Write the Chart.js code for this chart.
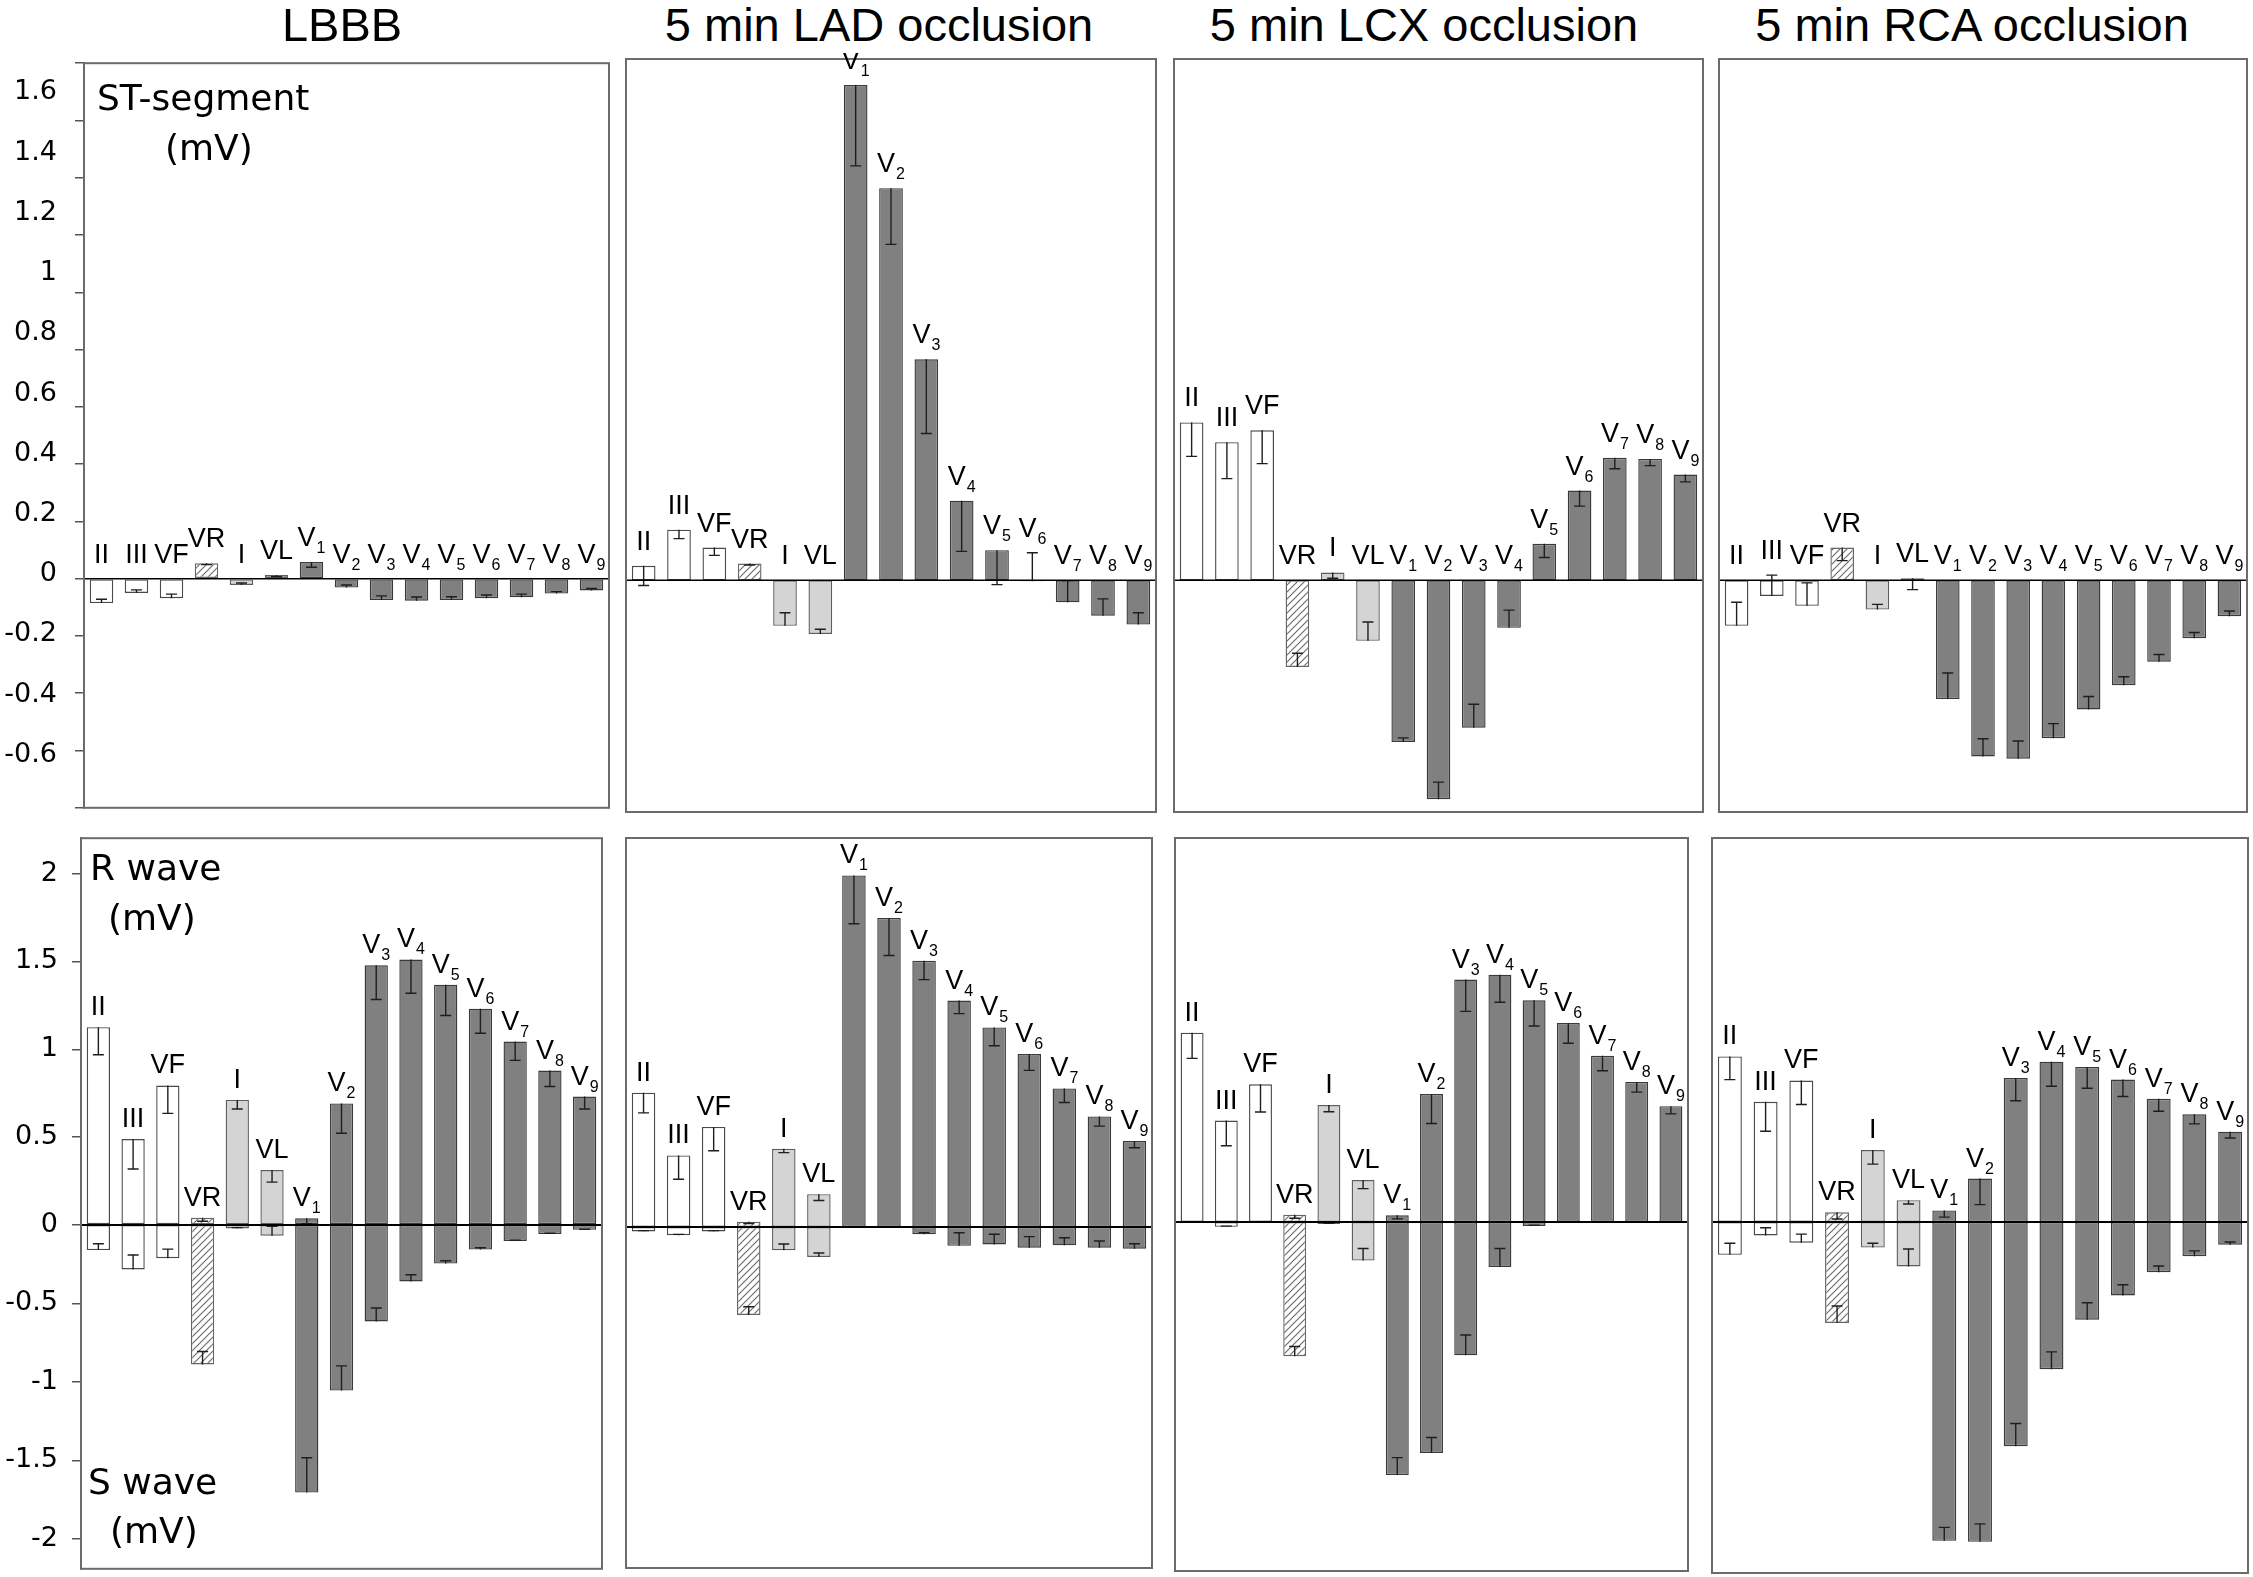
<!DOCTYPE html>
<html>
<head>
<meta charset="utf-8">
<title>ST-segment, R wave and S wave per lead</title>
<script src="https://cdn.jsdelivr.net/npm/chart.js@4.4.1/dist/chart.umd.min.js"></script>
<style>
  html, body { margin:0; padding:0; background:#fff; }
  #fig { position:relative; width:2253px; height:1577px; overflow:hidden; background:#fff; }
  #fig canvas { position:absolute; }
  .txt { position:absolute; white-space:nowrap; line-height:1; color:#000; }
  .title { font-family:"Liberation Sans", Arial, sans-serif; font-size:47px; transform:translateX(-50%); }
  .note { font-family:"DejaVu Sans", sans-serif; font-size:36px; }
</style>
</head>
<body>
<div id="fig"></div>
<script>
// ---------------- data ----------------
const leads = ['II','III','VF','VR','I','VL','V1','V2','V3','V4','V5','V6','V7','V8','V9'];
const panelTitles = ['LBBB','5 min LAD occlusion','5 min LCX occlusion','5 min RCA occlusion'];

const stTickValues = [-0.8,-0.6,-0.4,-0.2,0,0.2,0.4,0.6,0.8,1,1.2,1.4,1.6,1.8];
const stTickLabels = [-0.6,-0.4,-0.2,0,0.2,0.4,0.6,0.8,1,1.2,1.4,1.6];
const rTickValues = [0,0.5,1,1.5,2];
const sTickValues = [-0.5,-1,-1.5,-2];

// ST-segment (mV), mean and error
const stLBBB    = [-0.085,-0.050,-0.068,0.054,-0.022,0.013,0.058,-0.031,-0.074,-0.077,-0.074,-0.068,-0.065,-0.052,-0.041];
const stLBBBErr = [0.013,0.011,0.014,0.005,0.007,0.006,0.018,0.009,0.014,0.013,0.011,0.011,0.011,0.007,0.007];
const stLAD     = [0.050,0.175,0.113,0.058,-0.157,-0.185,1.710,1.354,0.763,0.275,0.104,-0.003,-0.076,-0.122,-0.153];
const stLADErr  = [0.068,0.031,0.027,0.005,0.045,0.016,0.279,0.194,0.256,0.175,0.119,0.098,0.075,0.058,0.041];
const stLCX     = [0.545,0.477,0.518,-0.299,0.027,-0.209,-0.558,-0.756,-0.509,-0.164,0.126,0.310,0.423,0.419,0.365];
const stLCXErr  = [0.117,0.126,0.115,0.047,0.020,0.065,0.014,0.059,0.081,0.061,0.047,0.054,0.038,0.023,0.025];
const stRCA     = [-0.157,-0.054,-0.088,0.113,-0.101,0.007,-0.410,-0.608,-0.616,-0.545,-0.446,-0.362,-0.281,-0.200,-0.124];
const stRCAErr  = [0.081,0.072,0.079,0.045,0.018,0.039,0.090,0.061,0.061,0.050,0.045,0.029,0.025,0.020,0.018];

// R wave (mV) and S wave (mV), mean and error
const rLBBB    = [1.126,0.489,0.794,0.041,0.712,0.313,0.038,0.692,1.478,1.511,1.368,1.231,1.044,0.879,0.731];
const rLBBBErr = [0.157,0.170,0.159,0.020,0.052,0.069,0.030,0.170,0.195,0.192,0.176,0.140,0.107,0.091,0.071];
const sLBBB    = [-0.160,-0.283,-0.212,-0.889,-0.022,-0.068,-1.705,-1.055,-0.615,-0.360,-0.246,-0.157,-0.102,-0.058,-0.031];
const sLBBBErr = [0.040,0.092,0.058,0.083,0.005,0.060,0.222,0.157,0.086,0.043,0.018,0.012,0.005,0.005,0.004];

const rLAD    = [0.764,0.407,0.569,0.030,0.445,0.187,2.000,1.758,1.514,1.288,1.135,0.984,0.788,0.629,0.489];
const rLADErr = [0.115,0.135,0.135,0.010,0.022,0.036,0.275,0.214,0.107,0.074,0.104,0.093,0.080,0.055,0.038];
const sLAD    = [-0.028,-0.052,-0.028,-0.560,-0.148,-0.191,0,0,-0.046,-0.120,-0.111,-0.132,-0.117,-0.132,-0.138];
const sLADErr = [0.005,0.005,0.005,0.052,0.040,0.025,0,0,0.010,0.083,0.065,0.071,0.049,0.043,0.031];

const rLCX    = [1.077,0.577,0.783,0.041,0.665,0.239,0.038,0.728,1.379,1.407,1.261,1.132,0.945,0.797,0.659];
const rLCXErr = [0.146,0.143,0.157,0.020,0.038,0.049,0.020,0.168,0.181,0.157,0.146,0.115,0.085,0.058,0.044];
const sLCX    = [0,-0.031,0,-0.855,-0.012,-0.246,-1.612,-1.471,-0.849,-0.286,-0.025,0,0,0,0];
const sLCXErr = [0,0.005,0,0.062,0.003,0.077,0.111,0.098,0.129,0.117,0.005,0,0,0,0];

const rRCA    = [0.942,0.684,0.805,0.055,0.409,0.124,0.066,0.247,0.819,0.912,0.882,0.810,0.701,0.613,0.514];
const rRCAErr = [0.132,0.168,0.137,0.038,0.080,0.022,0.038,0.148,0.129,0.140,0.121,0.096,0.071,0.055,0.036];
const sRCA    = [-0.209,-0.086,-0.132,-0.643,-0.163,-0.283,-2.031,-2.037,-1.428,-0.938,-0.622,-0.468,-0.320,-0.218,-0.145];
const sRCAErr = [0.074,0.049,0.055,0.108,0.028,0.111,0.086,0.114,0.145,0.111,0.108,0.068,0.040,0.034,0.018];

const stSeries = [[stLBBB,stLBBBErr],[stLAD,stLADErr],[stLCX,stLCXErr],[stRCA,stRCAErr]];
const rsSeries = [[rLBBB,rLBBBErr,sLBBB,sLBBBErr],[rLAD,rLADErr,sLAD,sLADErr],[rLCX,rLCXErr,sLCX,sLCXErr],[rRCA,rRCAErr,sRCA,sRCAErr]];

// ---------------- layout & style ----------------
const topBoxes = [{l:84,r:609},{l:626,r:1156},{l:1174,r:1703},{l:1719,r:2247}];
const topRow = {t:59, b:812};
const botBoxes = [
  {l:81,  r:602,  t:838, b:1569, zero:1225},
  {l:626, r:1152, t:838, b:1568, zero:1227},
  {l:1175,r:1688, t:838, b:1571, zero:1222},
  {l:1712,r:2248, t:838, b:1573, zero:1222}
];
const pxPerR = 175.8, pxPerS = 157.0;
const titleCenters = [342, 879, 1424, 1972];

Chart.defaults.font.family = '"DejaVu Sans", sans-serif';

const fig = document.getElementById('fig');

function makeHatch() {
  const s = 7;
  const c = document.createElement('canvas');
  c.width = s; c.height = s;
  const g = c.getContext('2d');
  g.fillStyle = '#ffffff'; g.fillRect(0, 0, s, s);
  g.strokeStyle = '#6e6e6e'; g.lineWidth = 1.2;
  g.beginPath();
  g.moveTo(-1, s + 1); g.lineTo(s + 1, -1);
  g.moveTo(-1, 1); g.lineTo(1, -1);
  g.moveTo(s - 1, s + 1); g.lineTo(s + 1, s - 1);
  g.stroke();
  return g.createPattern(c, 'repeat');
}
const hatch = makeHatch();
const leadGroup = ['white','white','white','hatch','light','light','dark','dark','dark','dark','dark','dark','dark','dark','dark'];
const fillFor = {white:'#ffffff', light:'#d4d4d4', dark:'#808080'};
const borderFor = {white:'#4a4a4a', hatch:'#666666', light:'#5e5e5e', dark:'#3a3a3a'};
const fills = leadGroup.map(g => g === 'hatch' ? hatch : fillFor[g]);
const borders = leadGroup.map(g => borderFor[g]);

const LABEL_FONT = '27px "Liberation Sans", Arial, sans-serif';
const SUB_FONT = '16px "Liberation Sans", Arial, sans-serif';

const overlay = {
  id: 'overlay',
  afterDatasetsDraw(chart, args, o) {
    const ctx = chart.ctx, a = chart.chartArea, xs = chart.scales.x;
    ctx.save();
    // error bars (drawn from the bar end towards zero)
    chart.data.datasets.forEach(ds => {
      const ys = chart.scales[ds.yAxisID];
      ds.data.forEach((v, i) => {
        const e = ds.errors[i];
        if (!e) return;
        const end = v < 0 ? v + e : v - e;
        const x = xs.getPixelForValue(i);
        const y0 = ys.getPixelForValue(v), y1 = ys.getPixelForValue(end);
        ctx.strokeStyle = '#1e1e1e'; ctx.lineWidth = 1.4;
        ctx.beginPath();
        ctx.moveTo(x, y0); ctx.lineTo(x, y1);
        ctx.moveTo(x - 5.5, y1); ctx.lineTo(x + 5.5, y1);
        ctx.stroke();
      });
    });
    // zero line
    const zy = chart.scales[o.zeroAxis].getPixelForValue(0);
    ctx.strokeStyle = '#000'; ctx.lineWidth = o.zeroWidth;
    ctx.beginPath(); ctx.moveTo(a.left, zy); ctx.lineTo(a.right, zy); ctx.stroke();
    // panel frame
    ctx.strokeStyle = '#6b6b6b'; ctx.lineWidth = 2;
    ctx.strokeRect(a.left, a.top, a.right - a.left, a.bottom - a.top);
    // lead labels
    const ds0 = chart.data.datasets[0];
    const ys0 = chart.scales[ds0.yAxisID];
    ctx.fillStyle = '#000';
    ctx.textBaseline = 'alphabetic';
    ctx.textAlign = 'left';
    chart.data.labels.forEach((lab, i) => {
      const v = ds0.data[i], e = ds0.errors[i] || 0;
      const end = v < 0 ? v + e : v - e;
      const top = Math.max(0, v, end);
      const yb = ys0.getPixelForValue(top) - o.gap;
      const m = /^(\D+)(\d*)$/.exec(lab);
      const main = m[1], sub = m[2];
      ctx.font = LABEL_FONT;
      const wMain = ctx.measureText(main).width;
      ctx.font = SUB_FONT;
      const wSub = sub ? ctx.measureText(sub).width + 1 : 0;
      const x0 = xs.getPixelForValue(i) - (wMain + wSub) / 2;
      ctx.font = LABEL_FONT;
      ctx.fillText(main, x0, yb);
      if (sub) {
        ctx.font = SUB_FONT;
        ctx.fillText(sub, x0 + wMain + 1, yb + 7);
      }
    });
    ctx.restore();
  }
};

function addCanvas(left, top, w, h) {
  const c = document.createElement('canvas');
  c.width = w; c.height = h;
  c.style.left = left + 'px'; c.style.top = top + 'px';
  c.style.width = w + 'px'; c.style.height = h + 'px';
  fig.appendChild(c);
  return c;
}

const tickFont = {family:'"DejaVu Sans", sans-serif', size:27};
const xHidden = {type:'category', display:false, offset:true, grid:{display:false}};
const barStyle = {backgroundColor: fills, borderColor: borders, borderWidth: 1.4, borderSkipped: false,
                  barPercentage: 0.67, categoryPercentage: 1.0, grouped: false};

function baseOptions(padding, overlayOpts, scales) {
  return {
    responsive: false, animation: false, events: [],
    layout: {padding},
    plugins: {legend:{display:false}, tooltip:{enabled:false}, overlay: overlayOpts},
    scales
  };
}

// ---------- top row: ST-segment ----------
topBoxes.forEach((box, k) => {
  const isLeft = k === 0;
  const padL = isLeft ? box.l : 6, padR = 6, padT = isLeft ? 30 : 6, padB = isLeft ? 30 : 6;
  const w = box.r - box.l + padL + padR, h = topRow.b - topRow.t + padT + padB;
  const c = addCanvas(box.l - padL, topRow.t - padT, w, h);
  let scales;
  if (isLeft) {
    scales = {
      x: xHidden,
      y: {type:'linear', position:'left', min:-0.8, max:1.8, weight:0,
          afterBuildTicks: s => { s.ticks = stTickValues.map(v => ({value:v})); },
          afterFit: s => { s.width = 9; },
          grid:{display:true, drawOnChartArea:false, drawTicks:true, tickLength:9, color:'#555', lineWidth:1.5},
          border:{display:true, color:'#6b6b6b', width:2},
          ticks:{display:false, autoSkip:false}},
      yL: {type:'linear', position:'left', min:-0.776, max:1.697, weight:1,
          afterBuildTicks: s => { s.ticks = stTickLabels.map(v => ({value:v})); },
          afterFit: s => { s.width = 75; },
          grid:{display:false, drawTicks:false}, border:{display:false},
          ticks:{padding:18, font:tickFont, color:'#000', autoSkip:false, callback: v => String(v)}}
    };
  } else {
    scales = { x: xHidden, y: {type:'linear', display:false, min:-0.8, max:1.8} };
  }
  const [vals, errs] = stSeries[k];
  new Chart(c, {
    type: 'bar',
    data: {labels: leads, datasets: [Object.assign({label:'ST-segment', data: vals, errors: errs, yAxisID:'y'}, barStyle)]},
    options: baseOptions({left: isLeft ? 0 : padL, right: padR, top: padT, bottom: padB},
                         {zeroAxis:'y', zeroWidth:1.5, gap:16}, scales),
    plugins: [overlay]
  });
});

// ---------- bottom row: R wave / S wave ----------
botBoxes.forEach((box, k) => {
  const isLeft = k === 0;
  const padL = isLeft ? box.l : 6, padR = 6, padT = isLeft ? 30 : 6, padB = isLeft ? 30 : 6;
  const w = box.r - box.l + padL + padR, h = box.b - box.t + padT + padB;
  const c = addCanvas(box.l - padL, box.t - padT, w, h);
  const rH = box.zero - box.t, sH = box.b - box.zero;
  const rMax = rH / pxPerR, sMin = -sH / pxPerS;
  const axisCommon = isLeft ? {
    grid:{display:true, drawOnChartArea:false, drawTicks:true, tickLength:9, color:'#555', lineWidth:1.5},
    border:{display:true, color:'#6b6b6b', width:2},
    ticks:{padding:14, font:tickFont, color:'#000', autoSkip:false, callback: v => String(v)},
    afterFit: s => { s.width = box.l; }
  } : {display:false};
  const scales = {
    x: xHidden,
    yS: Object.assign({type:'linear', position:'left', stack:'rs', stackWeight:sH, weight:0, min:sMin, max:0,
          afterBuildTicks: s => { s.ticks = sTickValues.map(v => ({value:v})); }}, axisCommon),
    yR: Object.assign({type:'linear', position:'left', stack:'rs', stackWeight:rH, weight:1, min:0, max:rMax,
          afterBuildTicks: s => { s.ticks = rTickValues.map(v => ({value:v})); }}, axisCommon)
  };
  const [rv, re, sv, se] = rsSeries[k];
  new Chart(c, {
    type: 'bar',
    data: {labels: leads, datasets: [
      Object.assign({label:'R wave', data: rv, errors: re, yAxisID:'yR'}, barStyle),
      Object.assign({label:'S wave', data: sv, errors: se, yAxisID:'yS'}, barStyle)
    ]},
    options: baseOptions({left: isLeft ? 0 : padL, right: padR, top: padT, bottom: padB},
                         {zeroAxis:'yR', zeroWidth:1.9, gap:12}, scales),
    plugins: [overlay]
  });
});

// ---------- texts ----------
panelTitles.forEach((t, k) => {
  const d = document.createElement('div');
  d.className = 'txt title';
  d.textContent = t;
  d.style.left = titleCenters[k] + 'px';
  d.style.top = '1px';
  fig.appendChild(d);
});
const notes = [
  {text:'ST-segment', left:97,  top:79.5},
  {text:'(mV)',       left:165, top:129.5},
  {text:'R wave',     left:90,  top:849.5},
  {text:'(mV)',       left:108, top:899.5},
  {text:'S wave',     left:88,  top:1463.5},
  {text:'(mV)',       left:110, top:1512.5}
];
notes.forEach(n => {
  const d = document.createElement('div');
  d.className = 'txt note';
  d.textContent = n.text;
  d.style.left = n.left + 'px';
  d.style.top = n.top + 'px';
  fig.appendChild(d);
});
</script>
</body>
</html>
